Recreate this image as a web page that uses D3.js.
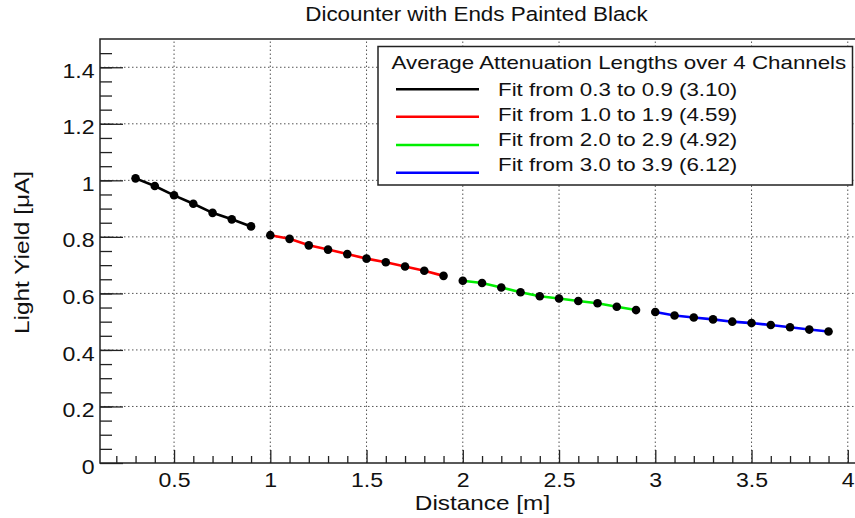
<!DOCTYPE html>
<html lang="en">
<head>
<meta charset="UTF-8">
<title>Dicounter with Ends Painted Black</title>
<script src="https://d3js.org/d3.v7.min.js"></script>
<style>
  body { margin: 0; background: #fff; }
  text { font-family: "Liberation Sans", Arial, sans-serif; fill: #111; }
</style>
</head>
<body>
<script>
    // Data (distance in m, light yield in uA)
    const distBlack = [0.3, 0.4, 0.5, 0.6, 0.7, 0.8, 0.9];
    const yieldBlack = [1.007, 0.980, 0.947, 0.917, 0.885, 0.862, 0.837];
    const distRed = [1.0, 1.1, 1.2, 1.3, 1.4, 1.5, 1.6, 1.7, 1.8, 1.9];
    const yieldRed = [0.806, 0.793, 0.770, 0.755, 0.739, 0.723, 0.710, 0.695, 0.680, 0.662];
    const distGreen = [2.0, 2.1, 2.2, 2.3, 2.4, 2.5, 2.6, 2.7, 2.8, 2.9];
    const yieldGreen = [0.645, 0.637, 0.621, 0.604, 0.590, 0.582, 0.573, 0.565, 0.553, 0.541];
    const distBlue = [3.0, 3.1, 3.2, 3.3, 3.4, 3.5, 3.6, 3.7, 3.8, 3.9];
    const yieldBlue = [0.534, 0.522, 0.515, 0.508, 0.500, 0.495, 0.488, 0.480, 0.472, 0.465];

    const fitLabels = ["Fit from 0.3 to 0.9 (3.10)", "Fit from 1.0 to 1.9 (4.59)",
                       "Fit from 2.0 to 2.9 (4.92)", "Fit from 3.0 to 3.9 (6.12)"];
    const fitColors = ["#000000", "#ff0000", "#00ee00", "#0000ff"];

    const xTicks = [0.5, 1, 1.5, 2, 2.5, 3, 3.5, 4];
    const yTicks = [0, 0.2, 0.4, 0.6, 0.8, 1, 1.2, 1.4];

    const series = [
        { x: distBlack, y: yieldBlack },
        { x: distRed, y: yieldRed },
        { x: distGreen, y: yieldGreen },
        { x: distBlue, y: yieldBlue }
    ];

    const width = 855, height = 518;
    const mLeft = 100, mRight = 856, mTop = 39, mBottom = 463;

    const svg = d3.select("body").append("svg")
        .attr("width", width)
        .attr("height", height);

    const x = d3.scaleLinear().domain([0.1153, 4.0427]).range([mLeft, mRight]);
    const y = d3.scaleLinear().domain([0, 1.5]).range([mBottom, mTop]);

    // grille pointillée
    const grid = svg.append("g").attr("stroke", "#555").attr("stroke-width", 1)
        .attr("stroke-dasharray", "1.5,2.5");
    grid.selectAll(".gx").data(xTicks).enter().append("line")
        .attr("x1", d => x(d)).attr("x2", d => x(d))
        .attr("y1", mBottom).attr("y2", mTop);
    grid.selectAll(".gy").data(yTicks.filter(d => d > 0)).enter().append("line")
        .attr("x1", mLeft).attr("x2", mRight)
        .attr("y1", d => y(d)).attr("y2", d => y(d));

    // axes (ticks pointing inward)
    const minorX = d3.range(2, 41).map(d => d / 10).filter(d => !xTicks.includes(d));
    const minorY = d3.range(1, 30).map(d => d / 20);

    svg.append("g")
        .attr("transform", `translate(0,${mBottom})`)
        .call(d3.axisBottom(x).tickValues(minorX).tickSize(-7).tickFormat(""))
        .call(g => g.select(".domain").remove());
    svg.append("g")
        .attr("transform", `translate(${mLeft},0)`)
        .call(d3.axisLeft(y).tickValues(minorY).tickSize(-12).tickFormat(""))
        .call(g => g.select(".domain").remove());

    const xAxis = svg.append("g")
        .attr("transform", `translate(0,${mBottom})`)
        .call(d3.axisBottom(x).tickValues(xTicks).tickSize(-13).tickPadding(9)
            .tickFormat(d3.format("")));
    xAxis.select(".domain").remove();
    xAxis.selectAll("text").style("font-size", "21px").attr("transform", "scale(1.1,1)");

    const yAxis = svg.append("g")
        .attr("transform", `translate(${mLeft},0)`)
        .call(d3.axisLeft(y).tickValues(yTicks).tickSize(-23).tickPadding(5)
            .tickFormat(d3.format("")));
    yAxis.select(".domain").remove();
    yAxis.selectAll("text").style("font-size", "21px")
        .attr("dy", "0.48em").attr("transform", "scale(1.1,1)");

    svg.selectAll(".tick line").attr("stroke", "#222").attr("stroke-width", 1.3);

    // cadre
    svg.append("rect")
        .attr("x", mLeft).attr("y", mTop)
        .attr("width", mRight - mLeft).attr("height", mBottom - mTop)
        .attr("fill", "none").attr("stroke", "#222").attr("stroke-width", 1.5);

    // courbes + points
    const line = d3.line().x(d => x(d[0])).y(d => y(d[1]));
    series.forEach((s, i) => {
        const pts = s.x.map((v, j) => [v, s.y[j]]);
        svg.append("path")
            .attr("d", line(pts))
            .attr("fill", "none")
            .attr("stroke", fitColors[i])
            .attr("stroke-width", 2.6);
        svg.append("g").selectAll("circle").data(pts).enter().append("circle")
            .attr("cx", d => x(d[0]))
            .attr("cy", d => y(d[1]))
            .attr("r", 4.3)
            .attr("fill", "#000");
    });

    // légende
    const leg = svg.append("g");
    leg.append("rect")
        .attr("x", 378).attr("y", 46.5)
        .attr("width", 474.5).attr("height", 138.5)
        .attr("fill", "#fff").attr("stroke", "#222").attr("stroke-width", 1.5);
    leg.append("text")
        .attr("transform", "translate(391.5,68.5) scale(1.2,1)")
        .style("font-size", "18.6px")
        .text("Average Attenuation Lengths over 4 Channels");
    const lineYs = [89.3, 116.7, 145, 172.7];
    fitLabels.forEach((lab, i) => {
        leg.append("line")
            .attr("x1", 396).attr("x2", 479)
            .attr("y1", lineYs[i]).attr("y2", lineYs[i])
            .attr("stroke", fitColors[i]).attr("stroke-width", 2.6);
        leg.append("text")
            .attr("transform", `translate(498,${95.5 + i * 25}) scale(1.2,1)`)
            .style("font-size", "18.6px")
            .text(lab);
    });

    // titres
    svg.append("text")
        .attr("transform", "translate(476.5,20.5) scale(1.15,1)")
        .attr("text-anchor", "middle")
        .style("font-size", "19.5px")
        .text("Dicounter with Ends Painted Black");

    svg.append("text")
        .attr("transform", "translate(482.5,510) scale(1.16,1)")
        .attr("text-anchor", "middle")
        .style("font-size", "21px")
        .text("Distance [m]");

    svg.append("text")
        .attr("transform", "translate(29,252.5) rotate(-90) scale(1.16,1)")
        .attr("text-anchor", "middle")
        .style("font-size", "21px")
        .text("Light Yield [μA]");
</script>
</body>
</html>
